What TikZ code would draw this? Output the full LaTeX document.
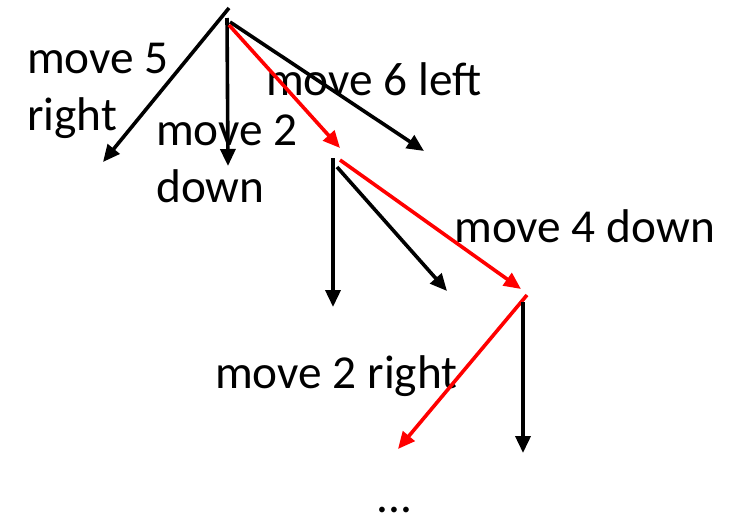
\documentclass[tikz,border=0pt]{standalone}
\usepackage{fontspec}
\setmainfont{Carlito}
\usetikzlibrary{arrows.meta}
\begin{document}
\begin{tikzpicture}[x=1pt,y=-1pt,
  lbl/.style={anchor=base west,inner sep=0pt,font=\fontsize{47.3}{57}\selectfont},
  blk/.style={line width=3.6pt,-{Triangle[length=17pt,width=15pt]}}]
\useasboundingbox (0,0) rectangle (743,520);
\definecolor{red}{RGB}{255,0,0}
% labels
\node[lbl] (m5) at (27,73) {move 5};
\node[lbl] (r5) at (27,130) {right};
\node[lbl] (m2) at (156,145) {move 2};
\node[lbl] (d2) at (156,202) {down};
\node[lbl] (m6) at (266,95) {move 6 left};
\node[lbl] (m4) at (454,242) {move 4 down};
\node[lbl] (m2r) at (215,388) {move 2 right};
\node[lbl] (dots) at (376,512) {...};
% coordinates
\coordinate (a1) at (229,8);   \coordinate (b1) at (103,162);
\coordinate (a2) at (227,18);  \coordinate (b2) at (228,166);
\coordinate (a3) at (229,25);  \coordinate (b3) at (340,148);
\coordinate (a4) at (230,22);  \coordinate (b4) at (424,151);
\coordinate (a5) at (333,158); \coordinate (b5) at (333,307);
\coordinate (a6) at (337,167); \coordinate (b6) at (447,291);
\coordinate (a7) at (340,160); \coordinate (b7) at (521,289);
\coordinate (a8) at (527,295); \coordinate (b8) at (398,449);
\coordinate (a9) at (523,302); \coordinate (b9) at (523,453);
% arrows
\draw[blk] (a1) -- (b1);
\draw[blk] (a2) -- (b2);
\draw[blk] (a4) -- (b4);
\draw[blk,red] (a3) -- (b3);
\draw[blk] (a5) -- (b5);
\draw[blk] (a6) -- (b6);
\draw[blk,red] (a7) -- (b7);
\draw[blk,red] (a8) -- (b8);
\draw[blk] (a9) -- (b9);
\end{tikzpicture}
\end{document}
